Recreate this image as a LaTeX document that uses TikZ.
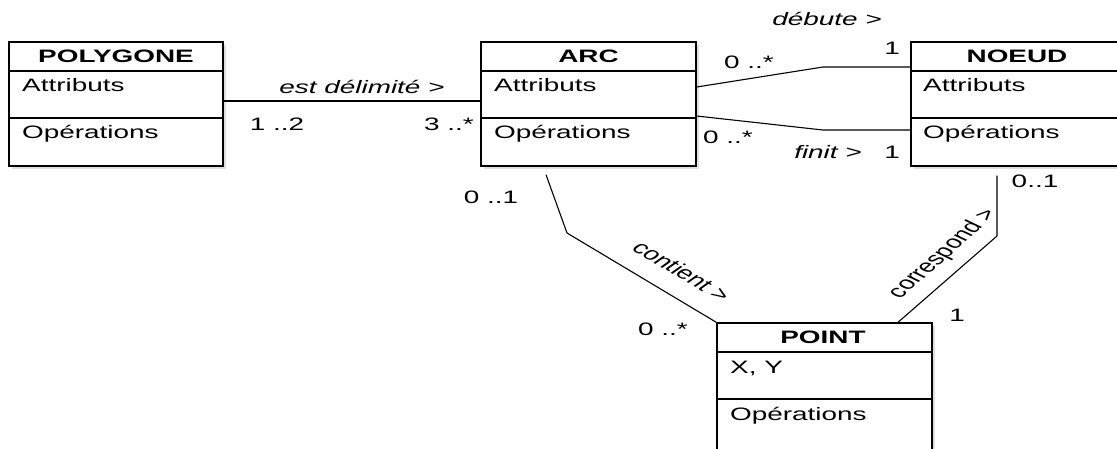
\documentclass[tikz,border=0pt]{standalone}
\usepackage{fontspec}
\usepackage{graphicx}
\setmainfont{Liberation Sans}
\usetikzlibrary{calc,shadows}
\newcommand\widetxt[1]{\scalebox{1.55}[1]{#1}}
\newcommand\widerot[2]{\scalebox{1.55}[1]{\rotatebox{#1}{#2}}}
\tikzset{
  box/.style={draw, line width=1.4pt, fill=white, inner sep=0pt, rectangle,
    drop shadow={shadow xshift=2.5pt, shadow yshift=-2.5pt, opacity=0.25}},
  sep/.style={line width=1.2pt},
  assoc/.style={line width=1.1pt},
  lbl/.style={inner sep=0pt, anchor=base},
  title/.style={lbl, font=\bfseries},
  role/.style={lbl, font=\itshape},
  mult/.style={lbl},
  attr/.style={lbl, anchor=base west},
  rotlbl/.style={inner sep=0pt, anchor=center},
}
\begin{document}
\begin{tikzpicture}[x=1pt,y=-1pt]
\fontsize{18}{21}\selectfont
\useasboundingbox (0,0) rectangle (1117,448);
\clip (0,0) rectangle (1117,448);
% boxes
\node[box, minimum width=214pt, minimum height=124pt] (polygone) at (116,104) {};
\node[box, minimum width=215pt, minimum height=124pt] (arc) at (588.5,104) {};
\node[box, minimum width=214pt, minimum height=124pt] (noeud) at (1018,104) {};
\node[box, minimum width=215pt, minimum height=129pt] (point) at (824.5,387.5) {};
% separators
\foreach \b in {polygone,arc,noeud}{
  \draw[sep] (\b.west |- 0,71) -- (\b.east |- 0,71);
  \draw[sep] (\b.west |- 0,118) -- (\b.east |- 0,118);
}
\draw[sep] (point.west |- 0,352) -- (point.east |- 0,352);
\draw[sep] (point.west |- 0,399) -- (point.east |- 0,399);
% texts
\node[title] (tpoly) at (116,62) {\widetxt{POLYGONE}};
\node[attr] (apoly) at (22,91) {\widetxt{Attributs}};
\node[attr] (opoly) at (22,138) {\widetxt{Opérations}};
\node[title] (tarc) at (588.5,62) {\widetxt{ARC}};
\node[attr] (aarc) at (494,91) {\widetxt{Attributs}};
\node[attr] (oarc) at (494,138) {\widetxt{Opérations}};
\node[title] (tnoeud) at (1017,62) {\widetxt{NOEUD}};
\node[attr] (anoeud) at (923,91) {\widetxt{Attributs}};
\node[attr] (onoeud) at (923,138) {\widetxt{Opérations}};
\node[title] (tpoint) at (823,343) {\widetxt{POINT}};
\node[attr] (apoint) at (730,373) {\widetxt{X, Y}};
\node[attr] (opoint) at (730,420) {\widetxt{Opérations}};
% connectors
\coordinate (d1) at (823,67);
\coordinate (f1) at (823,130);
\coordinate (c1) at (567,233);
\coordinate (r1) at (997,236);
\draw[assoc] (polygone.east |- 0,101) -- (arc.west |- 0,101);
\draw[assoc] (arc.east |- 0,87) -- (d1) -- (noeud.west |- 0,67);
\draw[assoc] (arc.east |- 0,116) -- (f1) -- (noeud.west |- 0,130);
\draw[assoc] ($(arc.south -| 546,0)+(0,8)$) -- (c1) -- (point.north west);
\draw[assoc] ($(noeud.south -| 997,0)+(0,9)$) -- (r1) -- (point.north -| 898,0);
% association labels
\node[role] (l1) at (362,93) {\widetxt{est délimité >}};
\node[mult] (m1) at (277,130) {\widetxt{1 ..2}};
\node[mult] (m2) at (449,130) {\widetxt{3 ..*}};
\node[role] (l2) at (827,25) {\widetxt{débute >}};
\node[mult] (m3) at (749,68) {\widetxt{0 ..*}};
\node[mult] (m4) at (892,54) {\widetxt{1}};
\node[mult] (m5) at (728,143) {\widetxt{0 ..*}};
\node[role] (l3) at (828,158) {\widetxt{finit >}};
\node[mult] (m6) at (892,158) {\widetxt{1}};
\node[mult] (m7) at (491,203) {\widetxt{0 ..1}};
\node[mult] (m8) at (663,335) {\widetxt{0 ..*}};
\node[rotlbl] (l4) at (682,271) {\widerot{-42.4}{contient >}};
\node[rotlbl] (l5) at (943,254) {\widerot{53.4}{correspond >}};
\node[mult] (m9) at (1035,187) {\widetxt{0..1}};
\node[mult] (m10) at (957,321) {\widetxt{1}};
\end{tikzpicture}
\end{document}
